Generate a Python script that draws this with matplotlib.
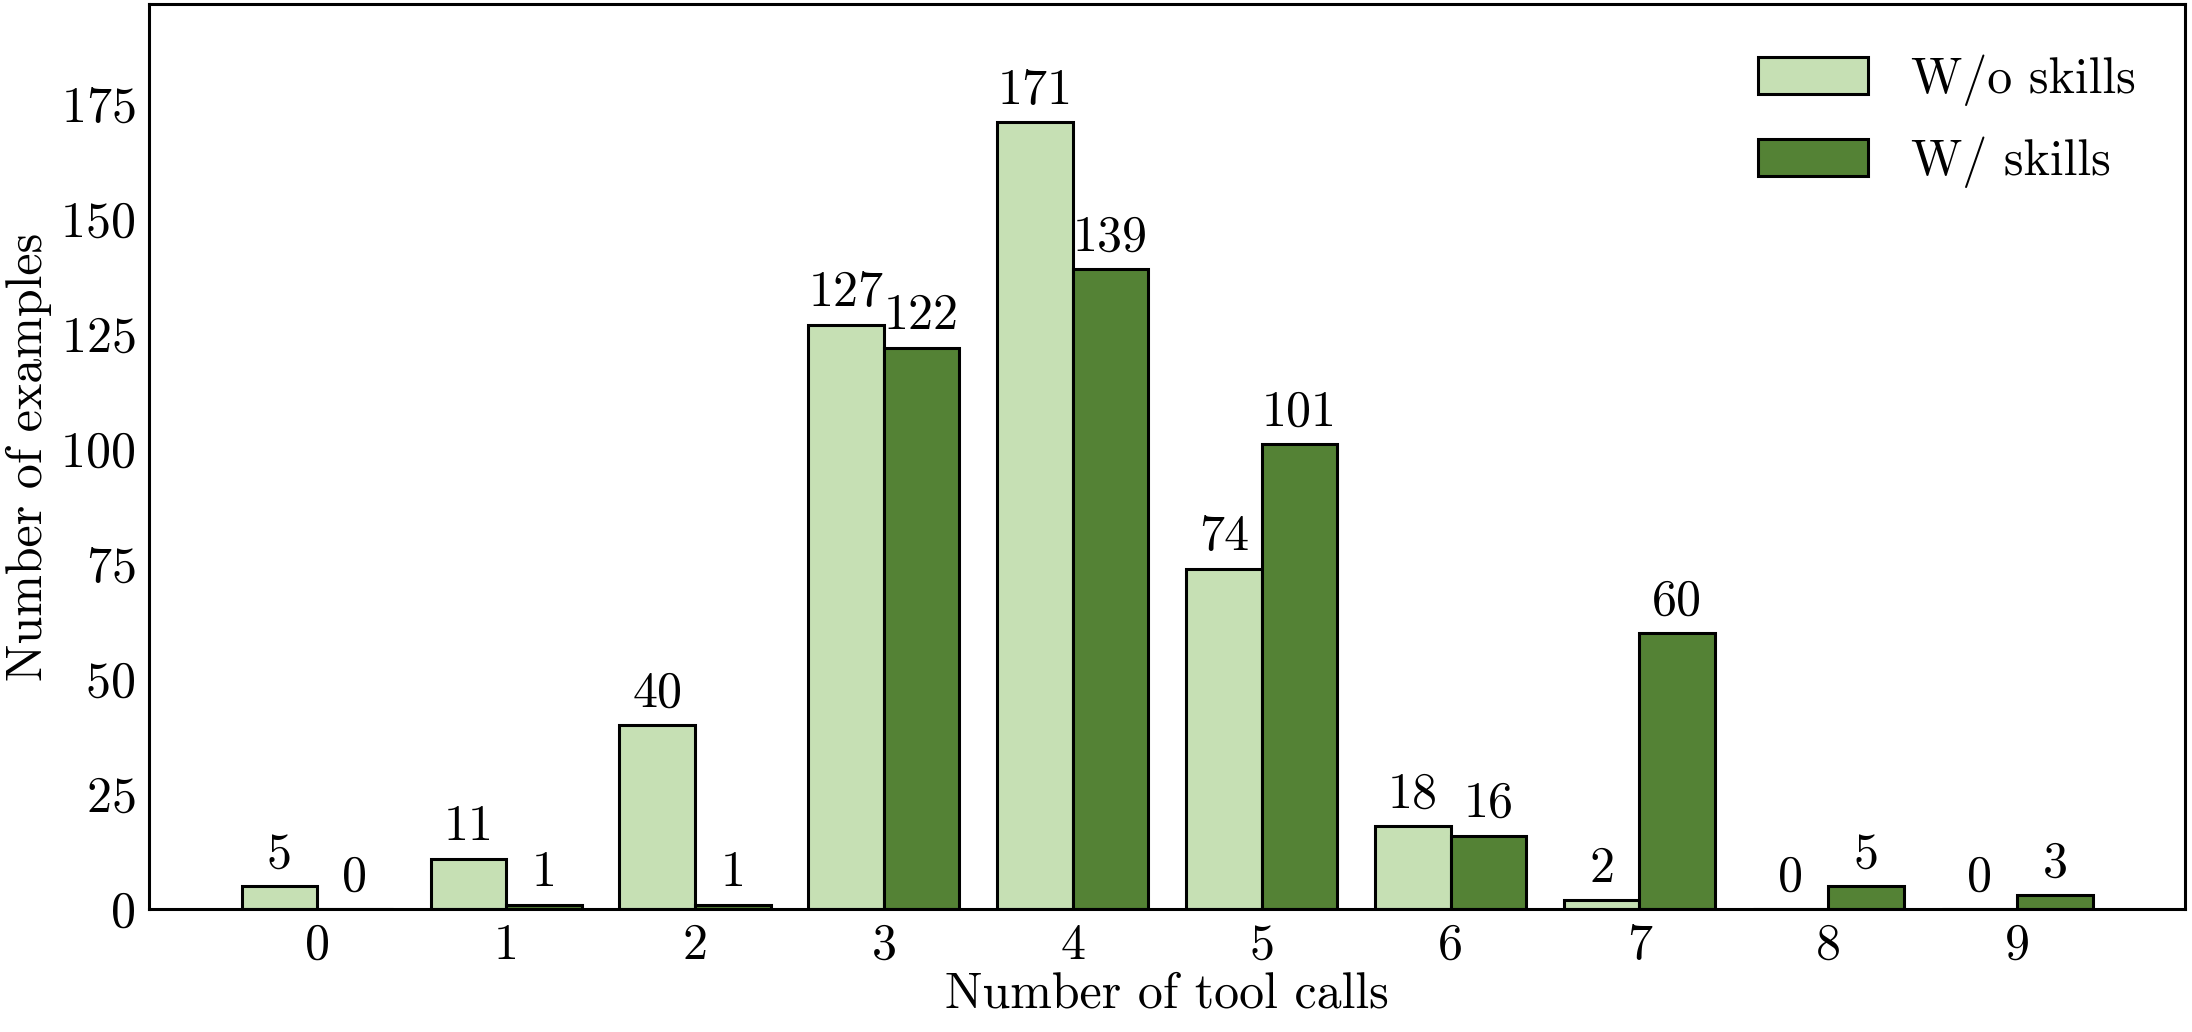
import matplotlib
matplotlib.use("Agg")
import matplotlib.pyplot as plt
import numpy as np

plt.rcParams['font.family'] = 'serif'
plt.rcParams['font.serif'] = ['cmr10']
plt.rcParams['mathtext.fontset'] = 'cm'
plt.rcParams['axes.unicode_minus'] = False
plt.rcParams['axes.formatter.use_mathtext'] = True

categories = [0, 1, 2, 3, 4, 5, 6, 7, 8, 9]
wo_skills = [5, 11, 40, 127, 171, 74, 18, 2, 0, 0]
w_skills = [0, 1, 1, 122, 139, 101, 16, 60, 5, 3]
series_names = ["W/o skills", "W/ skills"]

light = "#c6e0b4"
dark = "#548235"

fig = plt.figure(figsize=(21.92, 10.32), dpi=100)
ax = fig.add_axes([0.068, 0.119, 0.929, 0.877])

x = np.arange(len(categories))
w = 0.4
b1 = ax.bar(x - w/2, wo_skills, w, color=light, edgecolor='black', linewidth=2.2, label=series_names[0])
b2 = ax.bar(x + w/2, w_skills, w, color=dark, edgecolor='black', linewidth=2.2, label=series_names[1])

fs = 36
for bars, vals in ((b1, wo_skills), (b2, w_skills)):
    for rect, v in zip(bars, vals):
        ax.annotate(str(v), (rect.get_x() + rect.get_width()/2, v),
                    xytext=(0, 6), textcoords='offset points',
                    ha='center', va='bottom', fontsize=fs)

ax.set_xlim(-0.89, 9.89)
ax.set_ylim(0, 196.6)
ax.set_xticks(x)
ax.set_xticklabels([str(c) for c in categories])
ax.set_yticks(np.arange(0, 176, 25))
ax.tick_params(length=0, labelsize=fs, pad=10)
ax.set_xlabel("Number of tool calls", fontsize=fs, labelpad=2)
ax.set_ylabel("Number of examples", fontsize=fs, labelpad=6)
for s in ax.spines.values():
    s.set_linewidth(2.2)

ax.legend(loc='upper right', frameon=False, fontsize=36, handlelength=2.2,
          handleheight=0.75, handletextpad=0.85, labelspacing=0.62,
          borderaxespad=0.6)

fig.savefig("out.png", dpi=100)
